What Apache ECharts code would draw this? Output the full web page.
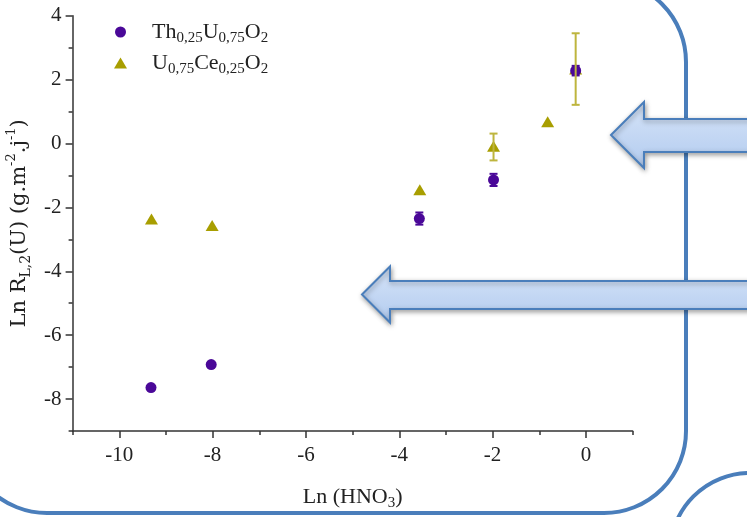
<!DOCTYPE html>
<html>
<head>
<meta charset="utf-8">
<script src="https://cdn.jsdelivr.net/npm/echarts@6/dist/echarts.min.js"></script>
<style>
html,body{margin:0;padding:0;background:#fff;}
#main{width:747px;height:517px;}
</style>
</head>
<body>
<div id="main"></div>
<script>
// ---- data ----
const seriesNames = ['Th0,25U0,75O2', 'U0,75Ce0,25O2'];
const xTh = [-9.32, -8.03, -3.57, -1.98, -0.22];
const yTh = [-7.64, -6.92, -2.35, -1.14, 2.28];
const errTh = [0, 0, 0.19, 0.19, 0.15];
const xCe = [-9.31, -8.01, -3.56, -1.98, -0.82, -0.22];
const yCe = [-2.36, -2.57, -1.45, -0.09, 0.68, 2.33];
const errCeUp = [0, 0, 0, 0.40, 0, 1.12];
const errCeDown = [0, 0, 0, 0.44, 0, 1.12];
const xMajorTicks = [-10, -8, -6, -4, -2, 0];
const xMinorTicks = [-11, -9, -7, -5, -3, -1, 1];
const yMajorTicks = [-8, -6, -4, -2, 0, 2, 4];
const yMinorTicks = [-9, -7, -5, -3, -1, 1, 3];

const FONT = '"Liberation Serif", "DejaVu Serif", serif';
const WIDE = '"DejaVu Serif", "Liberation Serif", serif';
const PURPLE = '#4A0898';
const OLIVE = '#A89E00';
const OLIVE_ERR = '#BEB53E';
const BLUE = '#4A7EBB';

const chart = echarts.init(document.getElementById('main'), null, {renderer: 'canvas'});

const thData = xTh.map((x, i) => [x, yTh[i]]);
const ceData = xCe.map((x, i) => [x, yCe[i]]);
const thErr = xTh.map((x, i) => [x, yTh[i], yTh[i] - errTh[i], yTh[i] + errTh[i]]).filter((d, i) => errTh[i] > 0);
const ceErr = xCe.map((x, i) => [x, yCe[i], yCe[i] - errCeDown[i], yCe[i] + errCeUp[i]]).filter((d, i) => errCeUp[i] > 0);

function errRender(color, half) {
  return function (params, api) {
    const x = api.value(0);
    const lo = api.coord([x, api.value(2)]);
    const hi = api.coord([x, api.value(3)]);
    const st = {stroke: color, lineWidth: 2};
    return {
      type: 'group',
      children: [
        {type: 'line', shape: {x1: lo[0], y1: lo[1], x2: hi[0], y2: hi[1]}, style: st},
        {type: 'line', shape: {x1: lo[0] - half, y1: lo[1], x2: lo[0] + half, y2: lo[1]}, style: st},
        {type: 'line', shape: {x1: hi[0] - half, y1: hi[1], x2: hi[0] + half, y2: hi[1]}, style: st}
      ]
    };
  };
}

const richBase = {
  n: {fontFamily: FONT, fontSize: 22, lineHeight: 28, color: '#222', verticalAlign: 'middle'},
  s: {fontFamily: FONT, fontSize: 15, lineHeight: 15, color: '#222', verticalAlign: 'bottom'},
  p: {fontFamily: FONT, fontSize: 14, lineHeight: 14, color: '#222', verticalAlign: 'top'}
};
const richY = {
  n: {fontFamily: WIDE, fontSize: 21, lineHeight: 28, color: '#222', verticalAlign: 'middle'},
  s: {fontFamily: WIDE, fontSize: 14, lineHeight: 14, color: '#222', verticalAlign: 'bottom'},
  p: {fontFamily: WIDE, fontSize: 13, lineHeight: 13, color: '#222', verticalAlign: 'top'}
};

function chem(name) {
  if (name === seriesNames[0]) return '{n|Th}{s|0,25}{n|U}{s|0,75}{n|O}{s|2}';
  return '{n|U}{s|0,75}{n|Ce}{s|0,25}{n|O}{s|2}';
}

const axisLineStyle = {color: '#333', width: 1.5};

const arrowGrad = new echarts.graphic.LinearGradient(0, 0, 0, 1, [
  {offset: 0, color: '#D6E4F8'},
  {offset: 1, color: '#B2CBEF'}
]);

const option = {
  backgroundColor: '#fff',
  animation: false,
  grid: {left: 72.6, top: 15.7, right: 114.4, bottom: 86, outerBoundsMode: 'none', containLabel: false},
  legend: {
    orient: 'vertical',
    left: 109,
    top: 16,
    itemWidth: 13,
    itemHeight: 11,
    itemGap: 6,
    data: [seriesNames[0], seriesNames[1]],
    formatter: chem,
    textStyle: {padding: [0, 0, 0, 20], rich: richBase}
  },
  xAxis: [
    {
      type: 'value', min: -11, max: 1, gridIndex: 0,
      axisLine: {show: true, lineStyle: axisLineStyle, onZero: false},
      axisTick: {show: true, length: 7, inside: false, customValues: xMajorTicks, lineStyle: axisLineStyle},
      axisLabel: {show: true, customValues: xMajorTicks, margin: 14, fontFamily: FONT, fontSize: 21, color: '#222'},
      splitLine: {show: false},
      name: '{n|Ln (HNO}{s|3}{n|)}',
      nameLocation: 'middle',
      nameGap: 52,
      nameTextStyle: {rich: richBase}
    },
    {
      type: 'value', min: -11, max: 1, gridIndex: 0, position: 'bottom',
      axisLine: {show: false, onZero: false},
      axisTick: {show: true, length: 4, inside: false, customValues: xMinorTicks, lineStyle: axisLineStyle},
      axisLabel: {show: false},
      splitLine: {show: false}
    }
  ],
  yAxis: [
    {
      type: 'value', min: -9, max: 4, gridIndex: 0,
      axisLine: {show: true, lineStyle: axisLineStyle, onZero: false},
      axisTick: {show: true, length: 7, inside: false, customValues: yMajorTicks, lineStyle: axisLineStyle},
      axisLabel: {show: true, customValues: yMajorTicks, margin: 11, fontFamily: FONT, fontSize: 21, color: '#222'},
      splitLine: {show: false},
      name: '{n|Ln R}{s|L,2}{n|(U) (g.m}{p|-2}{n|.j}{p|-1}{n|)}',
      nameLocation: 'middle',
      nameRotate: 90,
      nameGap: 38,
      nameTextStyle: {rich: richY}
    },
    {
      type: 'value', min: -9, max: 4, gridIndex: 0, position: 'left',
      axisLine: {show: false, onZero: false},
      axisTick: {show: true, length: 4, inside: false, customValues: yMinorTicks, lineStyle: axisLineStyle},
      axisLabel: {show: false},
      splitLine: {show: false}
    }
  ],
  series: [
    {
      name: seriesNames[1], type: 'scatter', data: ceData,
      symbol: 'triangle', symbolSize: [13, 11],
      itemStyle: {color: OLIVE, opacity: 1}, z: 2
    },
    {
      name: seriesNames[0], type: 'scatter', data: thData,
      symbol: 'circle', symbolSize: 11,
      itemStyle: {color: PURPLE, opacity: 1}, z: 3
    },
    {
      type: 'custom', data: thErr, renderItem: errRender(PURPLE, 4),
      encode: {x: 0, y: [1, 2, 3]}, z: 4, silent: true
    },
    {
      type: 'custom', data: ceErr, renderItem: errRender(OLIVE_ERR, 4),
      encode: {x: 0, y: [1, 2, 3]}, z: 5, silent: true
    }
  ],
  graphic: [
    {
      type: 'rect', z: 10,
      shape: {x: -35, y: -20, width: 721, height: 533, r: 82},
      style: {fill: 'none', stroke: BLUE, lineWidth: 4}
    },
    {
      type: 'rect', z: 10,
      shape: {x: 670, y: 473, width: 300, height: 300, r: 80},
      style: {fill: 'none', stroke: BLUE, lineWidth: 4}
    },
    {
      type: 'polygon', z: 11,
      shape: {points: [[611, 135], [644, 102], [644, 119], [770, 119], [770, 152], [644, 152], [644, 168]]},
      style: {fill: arrowGrad, stroke: BLUE, lineWidth: 2, shadowBlur: 5, shadowColor: 'rgba(0,0,0,0.35)', shadowOffsetY: 2, shadowOffsetX: 1}
    },
    {
      type: 'polygon', z: 11,
      shape: {points: [[362, 294.5], [390, 266.5], [390, 281], [770, 281], [770, 309], [390, 309], [390, 322.5]]},
      style: {fill: arrowGrad, stroke: BLUE, lineWidth: 2, shadowBlur: 5, shadowColor: 'rgba(0,0,0,0.35)', shadowOffsetY: 2, shadowOffsetX: 1}
    }
  ]
};

chart.setOption(option);
</script>
</body>
</html>
